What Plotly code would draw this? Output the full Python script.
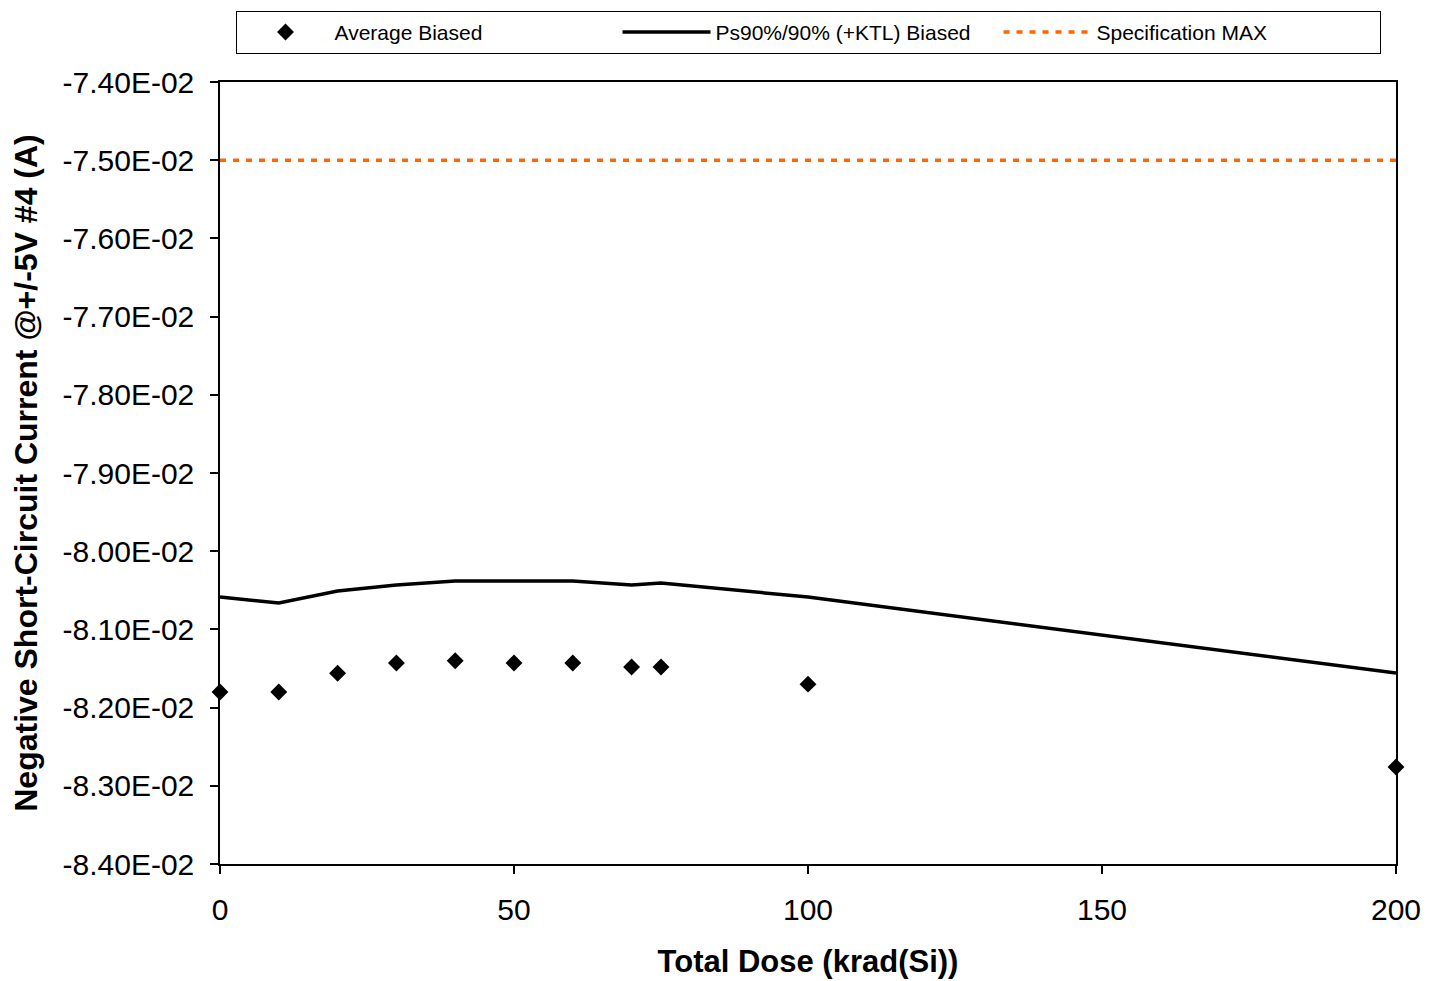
import plotly.graph_objects as go

# ---------------------------------------------------------------------------
# Data
# ---------------------------------------------------------------------------

dose_krad = [0, 10, 20, 30, 40, 50, 60, 70, 75, 100, 200]
average_biased = [-0.08180, -0.08180, -0.08156, -0.08143, -0.08140, -0.08143,
                  -0.08143, -0.08148, -0.08148, -0.08170, -0.08276]
ps90_biased = [-0.080586, -0.080662, -0.080509, -0.080432, -0.080381, -0.080381,
               -0.080381, -0.080432, -0.080407, -0.080586, -0.081557]
spec_dose = [0, 200]
spec_max = [-0.075, -0.075]

y_tickvals = [-0.074, -0.075, -0.076, -0.077, -0.078, -0.079,
              -0.080, -0.081, -0.082, -0.083, -0.084]
y_ticktext = ["-7.40E-02", "-7.50E-02", "-7.60E-02", "-7.70E-02", "-7.80E-02",
              "-7.90E-02", "-8.00E-02", "-8.10E-02", "-8.20E-02", "-8.30E-02",
              "-8.40E-02"]
x_tickvals = [0, 50, 100, 150, 200]

FONT = "Arial, Liberation Sans, sans-serif"

fig = go.Figure()

fig.add_trace(go.Scatter(
    x=dose_krad, y=average_biased,
    mode="markers",
    name="Average Biased",
    marker=dict(symbol="diamond", size=13, color="black"),
    cliponaxis=False,
))
fig.add_trace(go.Scatter(
    x=dose_krad, y=ps90_biased,
    mode="lines",
    name="Ps90%/90% (+KTL) Biased",
    line=dict(color="black", width=3.5),
))
fig.add_trace(go.Scatter(
    x=spec_dose, y=spec_max,
    mode="lines",
    name="Specification MAX",
    line=dict(color="#FF6600", width=3.5, dash="6px,7px"),
))

axis_common = dict(
    showline=True, linecolor="black", linewidth=1.5, mirror=True,
    ticks="outside", ticklen=8, tickcolor="black", tickwidth=1.5,
    showgrid=False, zeroline=False,
    ticklabelstandoff=10,
    tickfont=dict(size=30, color="black", family=FONT),
)

fig.update_xaxes(
    range=[0, 200], tickvals=x_tickvals,
    title=dict(text="<b>Total Dose (krad(Si))</b>",
               font=dict(size=31, color="black", family=FONT), standoff=26),
    **axis_common,
)
fig.update_yaxes(
    range=[-0.084, -0.074], tickvals=y_tickvals, ticktext=y_ticktext,
    title=dict(text="<b>Negative Short-Circuit Current @+/-5V #4 (A)</b>",
               font=dict(size=32, color="black", family=FONT), standoff=15),
    **axis_common,
)

fig.update_layout(
    width=1442, height=981,
    template="simple_white",
    paper_bgcolor="white", plot_bgcolor="white",
    # page body adds an 8px offset, so margins are shifted to compensate
    margin=dict(l=212, r=54, t=74, b=125, autoexpand=False),
    font=dict(family=FONT, color="black"),
    showlegend=True,
    legend=dict(
        orientation="h",
        x=0.5, xanchor="center",
        y=1.091, yanchor="top",
        bordercolor="black", borderwidth=1,
        itemwidth=88,
        entrywidth=278,
        font=dict(size=21, family=FONT, color="black"),
    ),
)

fig.write_html("out.html")
